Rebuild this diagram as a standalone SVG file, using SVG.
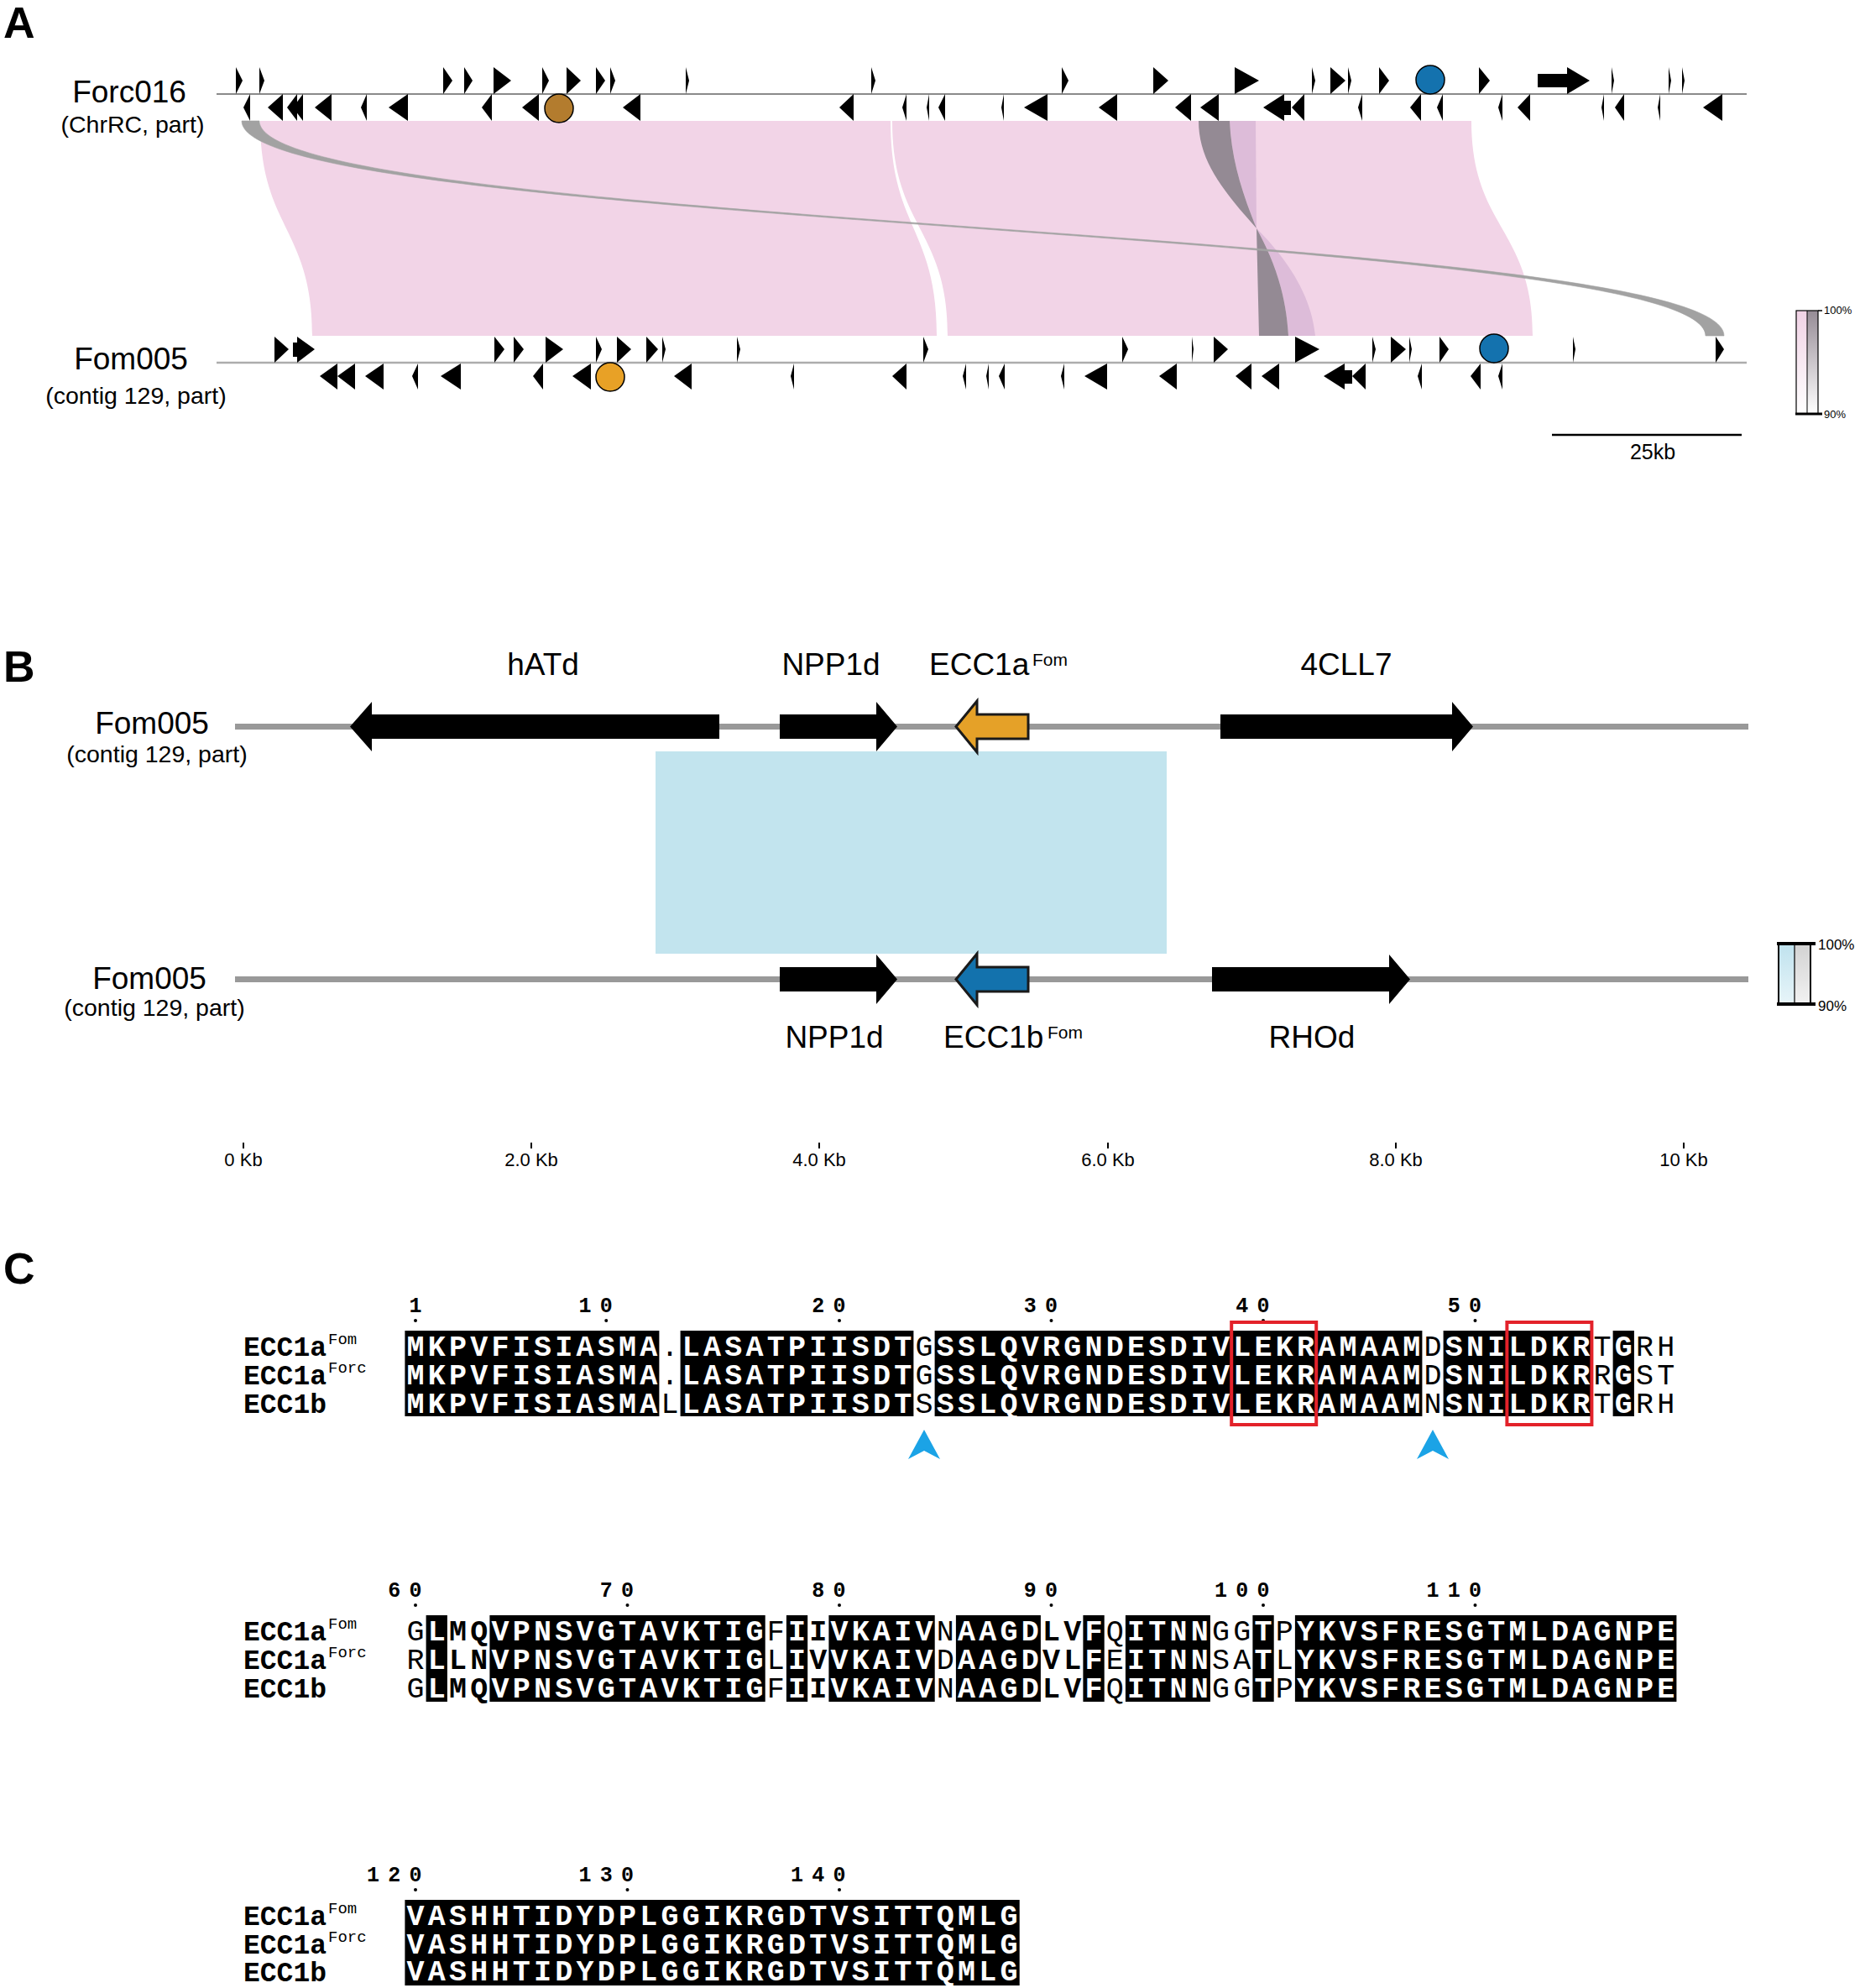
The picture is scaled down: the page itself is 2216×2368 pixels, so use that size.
<svg xmlns="http://www.w3.org/2000/svg" width="2216" height="2368" viewBox="0 0 2216 2368">
<defs>
<style>
.sans{font-family:"Liberation Sans",Arial,sans-serif;fill:#000}
.lbl{font-size:37px}
.sub{font-size:28.5px}
.panel{font-family:"Liberation Sans",Arial,sans-serif;font-size:52px;font-weight:bold}
.g{fill:#000}
.seq{font-family:"Liberation Mono","Courier New",monospace;font-size:35px;letter-spacing:4.25px}
.w{fill:#fff;font-weight:bold}
.r{fill:#000;font-weight:normal}
.k{fill:#000;font-weight:bold}
.num{font-family:"Liberation Mono","Courier New",monospace;font-size:25px;font-weight:bold;text-anchor:middle}
.name{font-family:"Liberation Mono","Courier New",monospace;font-size:33px;font-weight:bold}
.sup{font-family:"Liberation Mono","Courier New",monospace;font-size:19px}
.shade{fill:#000}
.redbox{fill:none;stroke:#e3222a;stroke-width:4}
.tri{fill:#1ba3e6}
.pink{fill:#f2d4e7}
.bgene{fill:#000}
</style>
<linearGradient id="gPink" x1="0" y1="0" x2="0" y2="1"><stop offset="0" stop-color="#f0d2e5"/><stop offset="1" stop-color="#ffffff"/></linearGradient>
<linearGradient id="gGray" x1="0" y1="0" x2="0" y2="1"><stop offset="0" stop-color="#968c96"/><stop offset="1" stop-color="#ffffff"/></linearGradient>
<linearGradient id="gBlue" x1="0" y1="0" x2="0" y2="1"><stop offset="0" stop-color="#bfe2ee"/><stop offset="1" stop-color="#e8f5f9"/></linearGradient>
<linearGradient id="gGray2" x1="0" y1="0" x2="0" y2="1"><stop offset="0" stop-color="#d2d2d2"/><stop offset="1" stop-color="#f2f2f2"/></linearGradient>
</defs>
<rect width="2216" height="2368" fill="#fff"/>

<!-- ================= PANEL A ================= -->
<g id="panelA">
<text class="panel" x="4" y="45">A</text>

<g id="A-links">
<path class="pink" d="M310,144 L1061,144 C1061,272 1116,272 1116,400 L372,400 C372,272 310,272 310,144 Z"/>
<path class="pink" d="M1063,144 L1753,144 C1753,272 1826,272 1826,400 L1129,400 C1129,272 1063,272 1063,144 Z"/>
<path fill="#ddbcd9" d="M1465,144 L1496,144 L1497,272 C1480,230 1467,190 1465,144 Z"/>
<path fill="#ddbcd9" d="M1497,272 C1515,305 1532,345 1535,400 L1567,400 C1562,345 1525,300 1497,272 Z"/>
<path fill="#948a94" d="M1428,144 L1465,144 C1467,190 1480,230 1497,272 L1500,400 L1535,400 C1532,345 1515,305 1497,272 C1455,225 1428,190 1428,144 Z"/>
<path fill="#a2a2a2" stroke="#a2a2a2" stroke-width="0.6" d="M288,144 L309,144 C309,272 2054,272 2054,400 L2032,400 C2032,272 288,272 288,144 Z"/>
</g>

<g id="A-track-Forc016">
<line x1="258" y1="112" x2="2081" y2="112" stroke="#8a8a8a" stroke-width="2"/>
<text class="sans lbl" x="154" y="122" text-anchor="middle">Forc016</text>
<text class="sans sub" x="158" y="158" text-anchor="middle">(ChrRC, part)</text>
<g class="g">
<polygon points="281,80 289,96 281,112"/><polygon points="309,80 315,96 309,112"/><polygon points="528,80 539,96 528,112"/><polygon points="553,80 563,96 553,112"/><polygon points="588,80 609,96 588,112"/><polygon points="646,80 654,96 646,112"/><polygon points="675,80 692,96 675,112"/><polygon points="710,80 721,96 710,112"/><polygon points="727,80 733,96 727,112"/><polygon points="817,80 821,96 817,112"/><polygon points="1038,80 1043,96 1038,112"/><polygon points="1265,80 1273,96 1265,112"/><polygon points="1374,80 1392,96 1374,112"/><polygon points="1471,80 1500,96 1471,112"/><polygon points="1563,80 1567,96 1563,112"/><polygon points="1585,80 1603,96 1585,112"/><polygon points="1606,80 1610,96 1606,112"/><polygon points="1643,80 1655,96 1643,112"/><polygon points="1762,80 1775,96 1762,112"/><polygon points="1920,80 1923,96 1920,112"/><polygon points="1988,80 1991,96 1988,112"/><polygon points="2004,80 2007,96 2004,112"/>
<polygon points="1832,88 1867,88 1867,80 1894,96 1867,112 1867,104 1832,104"/>
<polygon points="298,112 290,128 298,144"/><polygon points="337,112 319,128 337,144"/><polygon points="354,112 342,128 354,144"/><polygon points="361,112 349,128 361,144"/><polygon points="395,112 375,128 395,144"/><polygon points="437,112 430,128 437,144"/><polygon points="486,112 463,128 486,144"/><polygon points="586,112 574,128 586,144"/><polygon points="642,112 622,128 642,144"/><polygon points="763,112 742,128 763,144"/><polygon points="1017,112 1000,128 1017,144"/><polygon points="1080,112 1075,128 1080,144"/><polygon points="1107,112 1104,128 1107,144"/><polygon points="1126,112 1118,128 1126,144"/><polygon points="1196,112 1193,128 1196,144"/><polygon points="1248,112 1220,128 1248,144"/><polygon points="1331,112 1309,128 1331,144"/><polygon points="1419,112 1400,128 1419,144"/><polygon points="1452,112 1430,128 1452,144"/><polygon points="1554,112 1539,128 1554,144"/><polygon points="1623,112 1618,128 1623,144"/><polygon points="1693,112 1680,128 1693,144"/><polygon points="1719,112 1712,128 1719,144"/><polygon points="1790,112 1785,128 1790,144"/><polygon points="1823,112 1808,128 1823,144"/><polygon points="1911,112 1908,128 1911,144"/><polygon points="1935,112 1924,128 1935,144"/><polygon points="1978,112 1975,128 1978,144"/><polygon points="2052,112 2029,128 2052,144"/>
<polygon points="1505,128 1530,112 1530,120 1538,120 1538,137 1530,137 1530,144"/>
</g>
<circle cx="666" cy="129" r="17" fill="#b37c2e" stroke="#000" stroke-width="1.5"/>
<circle cx="1704" cy="95" r="17" fill="#1472ae" stroke="#000" stroke-width="1.5"/>
</g>

<g id="A-track-Fom005">
<line x1="258" y1="432" x2="2081" y2="432" stroke="#adadad" stroke-width="2.5"/>
<text class="sans lbl" x="156" y="440" text-anchor="middle">Fom005</text>
<text class="sans sub" x="162" y="481" text-anchor="middle">(contig 129, part)</text>
<g class="g">
<polygon points="327,401 344,416 327,432"/><polygon points="589,401 601,416 589,432"/><polygon points="612,401 624,416 612,432"/><polygon points="650,401 671,416 650,432"/><polygon points="710,401 717,416 710,432"/><polygon points="735,401 752,416 735,432"/><polygon points="770,401 784,416 770,432"/><polygon points="789,401 793,416 789,432"/><polygon points="878,401 882,416 878,432"/><polygon points="1100,401 1106,416 1100,432"/><polygon points="1337,401 1344,416 1337,432"/><polygon points="1420,401 1422,416 1420,432"/><polygon points="1446,401 1463,416 1446,432"/><polygon points="1543,401 1572,416 1543,432"/><polygon points="1635,401 1639,416 1635,432"/><polygon points="1657,401 1675,416 1657,432"/><polygon points="1679,401 1682,416 1679,432"/><polygon points="1715,401 1726,416 1715,432"/><polygon points="1874,401 1877,416 1874,432"/><polygon points="2044,401 2054,416 2044,432"/>
<polygon points="349,408 354,408 354,401 375,416 354,432 354,425 349,425"/>
<polygon points="402,433 381,448 402,464"/><polygon points="423,433 402,448 423,464"/><polygon points="457,433 435,448 457,464"/><polygon points="498,433 491,448 498,464"/><polygon points="549,433 525,448 549,464"/><polygon points="647,433 635,448 647,464"/><polygon points="704,433 682,448 704,464"/><polygon points="824,433 803,448 824,464"/><polygon points="946,433 942,448 946,464"/><polygon points="1080,433 1063,448 1080,464"/><polygon points="1151,433 1147,448 1151,464"/><polygon points="1178,433 1175,448 1178,464"/><polygon points="1197,433 1190,448 1197,464"/><polygon points="1268,433 1264,448 1268,464"/><polygon points="1319,433 1292,448 1319,464"/><polygon points="1402,433 1381,448 1402,464"/><polygon points="1491,433 1472,448 1491,464"/><polygon points="1524,433 1503,448 1524,464"/><polygon points="1627,433 1611,448 1627,464"/><polygon points="1694,433 1689,448 1694,464"/><polygon points="1764,433 1752,448 1764,464"/><polygon points="1790,433 1785,448 1790,464"/>
<polygon points="1577,448 1602,433 1602,441 1611,441 1611,457 1602,457 1602,464"/>
</g>
<circle cx="727" cy="449" r="17" fill="#e8a126" stroke="#000" stroke-width="1.5"/>
<circle cx="1780" cy="415" r="17" fill="#1472ae" stroke="#000" stroke-width="1.5"/>
</g>

<g id="A-scalebar">
<line x1="1849" y1="518" x2="2075" y2="518" stroke="#000" stroke-width="2.5"/>
<text class="sans" x="1969" y="547" font-size="25" text-anchor="middle">25kb</text>
</g>

<g id="A-legend">
<rect x="2140" y="370" width="13" height="123" fill="url(#gPink)"/>
<rect x="2153" y="370" width="13" height="123" fill="url(#gGray)"/>
<rect x="2140" y="370" width="26" height="123" fill="none" stroke="#000" stroke-width="1.2"/>
<line x1="2153" y1="370" x2="2153" y2="493" stroke="#000" stroke-width="1"/>
<line x1="2139" y1="493" x2="2171" y2="493" stroke="#000" stroke-width="3"/>
<line x1="2166" y1="370" x2="2171" y2="370" stroke="#000" stroke-width="1.5"/>
<text class="sans" x="2173" y="374" font-size="13">100%</text>
<text class="sans" x="2173" y="498" font-size="13">90%</text>
</g>
</g>

<!-- ================= PANEL B ================= -->
<g id="panelB">
<text class="panel" x="4" y="812">B</text>
<g id="B-link"><rect x="781" y="895" width="609" height="241" fill="#c2e4ee"/></g>

<g id="B-track-top">
<line x1="280" y1="865.5" x2="2083" y2="865.5" stroke="#999" stroke-width="7"/>
<text class="sans lbl" x="181" y="874" text-anchor="middle">Fom005</text>
<text class="sans sub" x="187" y="908" text-anchor="middle">(contig 129, part)</text>
<g id="gene-hATd"><polygon class="bgene" points="417,865.5 443,836 443,851 857,851 857,880 443,880 443,895"/><text class="sans lbl" x="647" y="804" text-anchor="middle">hATd</text></g>
<g id="gene-NPP1d-top"><polygon class="bgene" points="929,851 1044,851 1044,836 1069,865.5 1044,895 1044,880 929,880"/><text class="sans lbl" x="990" y="804" text-anchor="middle">NPP1d</text></g>
<g id="gene-ECC1a"><polygon points="1139,865.5 1164,835 1164,851 1225,851 1225,880 1164,880 1164,896" fill="#e5a128" stroke="#1a1a1a" stroke-width="3" stroke-linejoin="miter"/><text class="sans lbl" x="1107" y="804">ECC1a</text><text class="sans" x="1230" y="793" font-size="21">Fom</text></g>
<g id="gene-4CLL7"><polygon class="bgene" points="1454,851 1730,851 1730,836 1755,865.5 1730,895 1730,880 1454,880"/><text class="sans lbl" x="1604" y="804" text-anchor="middle">4CLL7</text></g>
</g>

<g id="B-track-bottom">
<line x1="280" y1="1166.5" x2="2083" y2="1166.5" stroke="#999" stroke-width="7"/>
<text class="sans lbl" x="178" y="1178" text-anchor="middle">Fom005</text>
<text class="sans sub" x="184" y="1210" text-anchor="middle">(contig 129, part)</text>
<g id="gene-NPP1d-bottom"><polygon class="bgene" points="929,1152 1044,1152 1044,1137 1069,1166.5 1044,1196 1044,1181 929,1181"/><text class="sans lbl" x="994" y="1248" text-anchor="middle">NPP1d</text></g>
<g id="gene-ECC1b"><polygon points="1139,1166.5 1164,1136 1164,1152 1225,1152 1225,1181 1164,1181 1164,1197" fill="#1372ad" stroke="#1a1a1a" stroke-width="3"/><text class="sans lbl" x="1124" y="1248">ECC1b</text><text class="sans" x="1248" y="1237" font-size="21">Fom</text></g>
<g id="gene-RHOd"><polygon class="bgene" points="1444,1152 1655,1152 1655,1137 1680,1166.5 1655,1196 1655,1181 1444,1181"/><text class="sans lbl" x="1563" y="1248" text-anchor="middle">RHOd</text></g>
</g>

<g id="B-legend">
<rect x="2119" y="1124" width="19" height="72" fill="url(#gBlue)"/>
<rect x="2138" y="1124" width="19" height="72" fill="url(#gGray2)"/>
<rect x="2119" y="1124" width="38" height="72" fill="none" stroke="#000" stroke-width="2"/>
<line x1="2138" y1="1124" x2="2138" y2="1196" stroke="#000" stroke-width="1.2"/>
<line x1="2117" y1="1124" x2="2163" y2="1124" stroke="#000" stroke-width="4"/>
<line x1="2117" y1="1196" x2="2163" y2="1196" stroke="#000" stroke-width="4"/>
<text class="sans" x="2166" y="1131" font-size="17">100%</text>
<text class="sans" x="2166" y="1204" font-size="17">90%</text>
</g>

<g id="B-axis" stroke="#000" stroke-width="2">
<line x1="290" y1="1361" x2="290" y2="1368"/><line x1="633" y1="1361" x2="633" y2="1368"/><line x1="976" y1="1361" x2="976" y2="1368"/><line x1="1320" y1="1361" x2="1320" y2="1368"/><line x1="1663" y1="1361" x2="1663" y2="1368"/><line x1="2006" y1="1361" x2="2006" y2="1368"/>
</g>
<g id="B-axis-labels" class="sans" font-size="22" text-anchor="middle">
<text x="290" y="1389">0 Kb</text><text x="633" y="1389">2.0 Kb</text><text x="976" y="1389">4.0 Kb</text><text x="1320" y="1389">6.0 Kb</text><text x="1663" y="1389">8.0 Kb</text><text x="2006" y="1389">10 Kb</text>
</g>
</g>

<!-- ================= PANEL C ================= -->
<g id="panelC">
<text class="panel" x="4" y="1529">C</text>

<g id="C-block1">
<text class="num" x="495" y="1563">1</text>
<text class="num" x="697 722.25" y="1563">10</text>
<text class="num" x="974.75 1000" y="1563">20</text>
<text class="num" x="1227.25 1252.5" y="1563">30</text>
<text class="num" x="1479.75 1505" y="1563">40</text>
<text class="num" x="1732.25 1757.5" y="1563">50</text>
<g fill="#000"><circle cx="495" cy="1573" r="2"/><circle cx="722.25" cy="1573" r="2"/><circle cx="1000" cy="1573" r="2"/><circle cx="1252.5" cy="1573" r="2"/><circle cx="1505" cy="1573" r="2"/><circle cx="1757.5" cy="1573" r="2"/></g>
<g class="shade">
<rect x="482.4" y="1585" width="303" height="102"/>
<rect x="810.6" y="1585" width="277.8" height="102"/>
<rect x="1113.6" y="1585" width="580.8" height="102"/>
<rect x="1719.6" y="1585" width="176.8" height="102"/>
<rect x="1921.6" y="1585" width="25.3" height="102"/>
</g>
<text class="name" x="290" y="1615">ECC1a</text><text class="sup" x="391" y="1601">Fom</text>
<text class="name" x="290" y="1649">ECC1a</text><text class="sup" x="391" y="1635">Forc</text>
<text class="name" x="290" y="1683">ECC1b</text>
<text class="seq" y="1615"><tspan class="w" x="484.5">MKPVFISIASMA</tspan><tspan class="r" x="787.5">.</tspan><tspan class="w" x="812.75">LASATPIISDT</tspan><tspan class="r" x="1090.5">G</tspan><tspan class="w" x="1115.75">SSLQVRGNDESDIVLEKRAMAAM</tspan><tspan class="r" x="1696.5">D</tspan><tspan class="w" x="1721.75">SNILDKR</tspan><tspan class="r" x="1898.5">T</tspan><tspan class="w" x="1923.75">G</tspan><tspan class="r" x="1949">RH</tspan></text>
<text class="seq" y="1649"><tspan class="w" x="484.5">MKPVFISIASMA</tspan><tspan class="r" x="787.5">.</tspan><tspan class="w" x="812.75">LASATPIISDT</tspan><tspan class="r" x="1090.5">G</tspan><tspan class="w" x="1115.75">SSLQVRGNDESDIVLEKRAMAAM</tspan><tspan class="r" x="1696.5">D</tspan><tspan class="w" x="1721.75">SNILDKR</tspan><tspan class="r" x="1898.5">R</tspan><tspan class="w" x="1923.75">G</tspan><tspan class="r" x="1949">ST</tspan></text>
<text class="seq" y="1683"><tspan class="w" x="484.5">MKPVFISIASMA</tspan><tspan class="r" x="787.5">L</tspan><tspan class="w" x="812.75">LASATPIISDT</tspan><tspan class="r" x="1090.5">S</tspan><tspan class="w" x="1115.75">SSLQVRGNDESDIVLEKRAMAAM</tspan><tspan class="r" x="1696.5">N</tspan><tspan class="w" x="1721.75">SNILDKR</tspan><tspan class="r" x="1898.5">T</tspan><tspan class="w" x="1923.75">G</tspan><tspan class="r" x="1949">RH</tspan></text>
<rect class="redbox" x="1467.2" y="1575" width="101" height="122"/>
<rect class="redbox" x="1795.4" y="1575" width="101" height="122"/>
<polygon class="tri" points="1101,1703 1120,1738 1101,1728 1082,1738"/>
<polygon class="tri" points="1707,1703 1726,1738 1707,1728 1688,1738"/>
</g>

<g id="C-block2">
<text class="num" x="469.75 495" y="1902">60</text>
<text class="num" x="722.25 747.5" y="1902">70</text>
<text class="num" x="974.75 1000" y="1902">80</text>
<text class="num" x="1227.25 1252.5" y="1902">90</text>
<text class="num" x="1454.5 1479.75 1505" y="1902">100</text>
<text class="num" x="1707 1732.25 1757.5" y="1902">110</text>
<g fill="#000"><circle cx="495" cy="1912" r="2"/><circle cx="747.5" cy="1912" r="2"/><circle cx="1000" cy="1912" r="2"/><circle cx="1252.5" cy="1912" r="2"/><circle cx="1505" cy="1912" r="2"/><circle cx="1757.5" cy="1912" r="2"/></g>
<g class="shade">
<rect x="507.6" y="1924" width="25.3" height="103"/>
<rect x="583.4" y="1924" width="328.3" height="103"/>
<rect x="936.9" y="1924" width="25.3" height="103"/>
<rect x="987.4" y="1924" width="126.3" height="103"/>
<rect x="1138.9" y="1924" width="101" height="103"/>
<rect x="1290.4" y="1924" width="25.3" height="103"/>
<rect x="1340.9" y="1924" width="101" height="103"/>
<rect x="1492.4" y="1924" width="25.3" height="103"/>
<rect x="1542.9" y="1924" width="454.5" height="103"/>
</g>
<text class="name" x="290" y="1954">ECC1a</text><text class="sup" x="391" y="1940">Fom</text>
<text class="name" x="290" y="1988">ECC1a</text><text class="sup" x="391" y="1974">Forc</text>
<text class="name" x="290" y="2022">ECC1b</text>
<text class="seq" y="1954"><tspan class="r" x="484.5">G</tspan><tspan class="w" x="509.75">L</tspan><tspan class="k" x="535">MQ</tspan><tspan class="w" x="585.5">VPNSVGTAVKTIG</tspan><tspan class="r" x="913.75">F</tspan><tspan class="w" x="939">I</tspan><tspan class="k" x="964.25">I</tspan><tspan class="w" x="989.5">VKAIV</tspan><tspan class="r" x="1115.75">N</tspan><tspan class="w" x="1141">AAGD</tspan><tspan class="k" x="1242">LV</tspan><tspan class="w" x="1292.5">F</tspan><tspan class="r" x="1317.75">Q</tspan><tspan class="w" x="1343">ITNN</tspan><tspan class="r" x="1444">GG</tspan><tspan class="w" x="1494.5">T</tspan><tspan class="r" x="1519.75">P</tspan><tspan class="w" x="1545">YKVSFRESGTMLDAGNPE</tspan></text>
<text class="seq" y="1988"><tspan class="r" x="484.5">R</tspan><tspan class="w" x="509.75">L</tspan><tspan class="k" x="535">LN</tspan><tspan class="w" x="585.5">VPNSVGTAVKTIG</tspan><tspan class="r" x="913.75">L</tspan><tspan class="w" x="939">I</tspan><tspan class="k" x="964.25">V</tspan><tspan class="w" x="989.5">VKAIV</tspan><tspan class="r" x="1115.75">D</tspan><tspan class="w" x="1141">AAGD</tspan><tspan class="k" x="1242">VL</tspan><tspan class="w" x="1292.5">F</tspan><tspan class="r" x="1317.75">E</tspan><tspan class="w" x="1343">ITNN</tspan><tspan class="r" x="1444">SA</tspan><tspan class="w" x="1494.5">T</tspan><tspan class="r" x="1519.75">L</tspan><tspan class="w" x="1545">YKVSFRESGTMLDAGNPE</tspan></text>
<text class="seq" y="2022"><tspan class="r" x="484.5">G</tspan><tspan class="w" x="509.75">L</tspan><tspan class="k" x="535">MQ</tspan><tspan class="w" x="585.5">VPNSVGTAVKTIG</tspan><tspan class="r" x="913.75">F</tspan><tspan class="w" x="939">I</tspan><tspan class="k" x="964.25">I</tspan><tspan class="w" x="989.5">VKAIV</tspan><tspan class="r" x="1115.75">N</tspan><tspan class="w" x="1141">AAGD</tspan><tspan class="k" x="1242">LV</tspan><tspan class="w" x="1292.5">F</tspan><tspan class="r" x="1317.75">Q</tspan><tspan class="w" x="1343">ITNN</tspan><tspan class="r" x="1444">GG</tspan><tspan class="w" x="1494.5">T</tspan><tspan class="r" x="1519.75">P</tspan><tspan class="w" x="1545">YKVSFRESGTMLDAGNPE</tspan></text>
</g>

<g id="C-block3">
<text class="num" x="444.5 469.75 495" y="2241">120</text>
<text class="num" x="697 722.25 747.5" y="2241">130</text>
<text class="num" x="949.5 974.75 1000" y="2241">140</text>
<g fill="#000"><circle cx="495" cy="2251" r="2"/><circle cx="747.5" cy="2251" r="2"/><circle cx="1000" cy="2251" r="2"/></g>
<rect class="shade" x="482.4" y="2263" width="732.3" height="102"/>
<text class="name" x="290" y="2293">ECC1a</text><text class="sup" x="391" y="2279">Fom</text>
<text class="name" x="290" y="2327">ECC1a</text><text class="sup" x="391" y="2313">Forc</text>
<text class="name" x="290" y="2360">ECC1b</text>
<text class="seq" y="2293"><tspan class="w" x="484.5">VASHHTIDYDPLGGIKRGDTVSITTQMLG</tspan></text>
<text class="seq" y="2327"><tspan class="w" x="484.5">VASHHTIDYDPLGGIKRGDTVSITTQMLG</tspan></text>
<text class="seq" y="2359"><tspan class="w" x="484.5">VASHHTIDYDPLGGIKRGDTVSITTQMLG</tspan></text>
</g>
</g>
</svg>
